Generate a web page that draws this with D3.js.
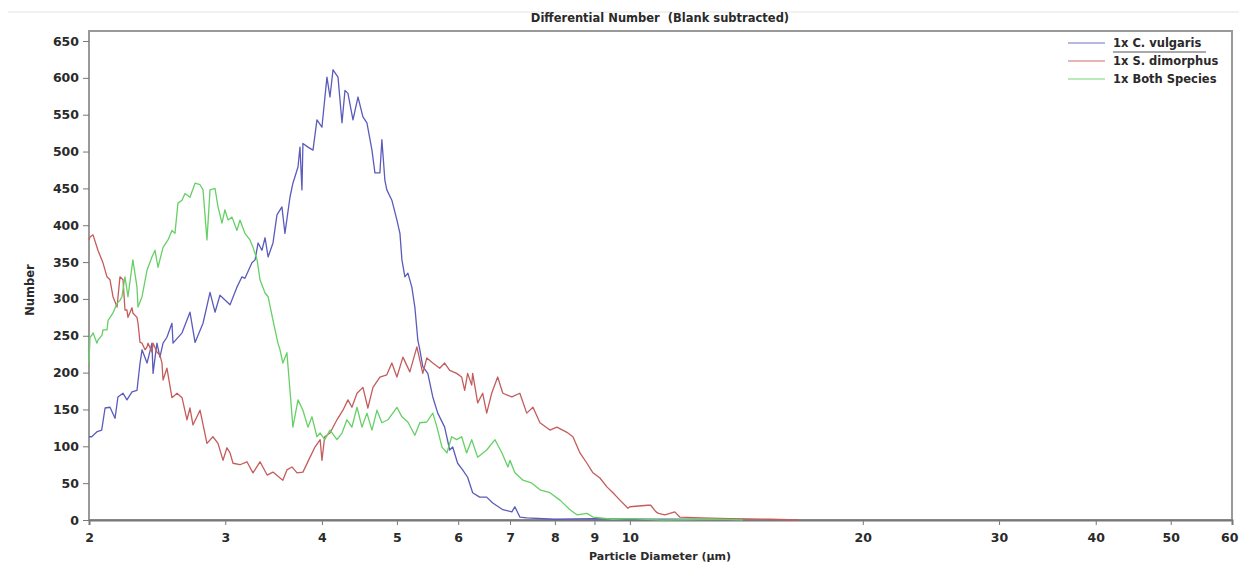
<!DOCTYPE html>
<html>
<head>
<meta charset="utf-8">
<script src="https://cdn.jsdelivr.net/npm/d3@7"></script>
<style>
  html, body { margin: 0; padding: 0; background: #fff; }
  svg { display: block; font-family: "DejaVu Sans", Arial, sans-serif; }
  .axis path, .axis line { stroke: #777; }
  .label { font-weight: 700; fill: #2a2a2a; white-space: pre; }
</style>
</head>
<body>
<svg id="chart" width="1239" height="563"></svg>
<script>
const title = "Differential Number  (Blank subtracted)";
const xTitle = "Particle Diameter (µm)";
const yTitle = "Number";
const seriesNames = ["1x C. vulgaris", "1x S. dimorphus", "1x Both Species"];
const seriesColors = ["#5b5bbb", "#c45c5c", "#66d066"];
const xTicks = [2, 3, 4, 5, 6, 7, 8, 9, 10, 20, 30, 40, 50, 60];
const yTicks = [0, 50, 100, 150, 200, 250, 300, 350, 400, 450, 500, 550, 600, 650];

// [diameter µm, number]
const cVulgaris = [
  [2.0, 113], [2.016, 113], [2.05, 120], [2.077, 122], [2.098, 152], [2.129, 153], [2.161, 138],
  [2.18, 167], [2.213, 172], [2.239, 163], [2.273, 174], [2.307, 176], [2.328, 213], [2.342, 231],
  [2.377, 213], [2.412, 240], [2.42, 199], [2.448, 240], [2.47, 221], [2.493, 240], [2.522, 248],
  [2.56, 267], [2.568, 240], [2.638, 254], [2.701, 282], [2.742, 241], [2.808, 267], [2.867, 309],
  [2.91, 282], [2.953, 305], [3.043, 292], [3.106, 316], [3.153, 330], [3.181, 328], [3.248, 349],
  [3.278, 353], [3.308, 376], [3.346, 366], [3.377, 383], [3.408, 357], [3.458, 376], [3.499, 414],
  [3.551, 425], [3.583, 389], [3.637, 438], [3.669, 457], [3.725, 479], [3.747, 506], [3.769, 448],
  [3.78, 511], [3.837, 506], [3.895, 502], [3.941, 543], [4.0, 533], [4.06, 601], [4.097, 574],
  [4.134, 611], [4.196, 601], [4.246, 539], [4.284, 583], [4.322, 579], [4.387, 543], [4.453, 574],
  [4.519, 547], [4.573, 539], [4.642, 502], [4.683, 471], [4.753, 471], [4.781, 516], [4.824, 461],
  [4.852, 448], [4.925, 434], [5.0, 407], [5.045, 389], [5.075, 353], [5.12, 330], [5.166, 335],
  [5.227, 316], [5.274, 289], [5.321, 244], [5.353, 231], [5.4, 208], [5.481, 199], [5.563, 167],
  [5.646, 145], [5.763, 126], [5.85, 95], [5.902, 99], [5.99, 77], [6.08, 68], [6.171, 58],
  [6.264, 37], [6.395, 31], [6.531, 31], [6.65, 23], [6.852, 14], [7.039, 11], [7.102, 18],
  [7.208, 4], [7.357, 3], [8.0, 1], [9.0, 2], [10.0, 1], [12.0, 1], [14.0, 0]
];
const sDimorphus = [
  [2.0, 380], [2.006, 384], [2.024, 387], [2.054, 366], [2.085, 349], [2.11, 330], [2.129, 326],
  [2.148, 303], [2.174, 289], [2.193, 330], [2.213, 326], [2.226, 285], [2.239, 285], [2.246, 275],
  [2.273, 288], [2.279, 281], [2.307, 275], [2.314, 267], [2.328, 241], [2.342, 240], [2.363, 231],
  [2.377, 235], [2.384, 240], [2.412, 228], [2.42, 240], [2.448, 228], [2.47, 224], [2.485, 213],
  [2.493, 190], [2.522, 206], [2.56, 166], [2.599, 172], [2.638, 166], [2.677, 136], [2.701, 152],
  [2.725, 129], [2.783, 149], [2.841, 104], [2.892, 113], [2.936, 104], [2.98, 81], [3.015, 98],
  [3.043, 91], [3.07, 77], [3.134, 75], [3.2, 79], [3.258, 64], [3.327, 79], [3.398, 61],
  [3.458, 65], [3.531, 57], [3.561, 54], [3.604, 68], [3.659, 72], [3.714, 64], [3.78, 65],
  [3.86, 85], [3.918, 99], [3.979, 109], [4.0, 81], [4.033, 113], [4.097, 118], [4.183, 136],
  [4.258, 149], [4.322, 163], [4.373, 153], [4.44, 172], [4.519, 180], [4.586, 152], [4.656, 180],
  [4.753, 194], [4.852, 197], [4.925, 213], [5.0, 194], [5.09, 221], [5.196, 201], [5.306, 235],
  [5.4, 199], [5.465, 220], [5.563, 213], [5.679, 206], [5.763, 213], [5.85, 203], [5.972, 199],
  [6.062, 194], [6.117, 176], [6.171, 199], [6.246, 183], [6.264, 199], [6.358, 159], [6.454, 172],
  [6.531, 145], [6.629, 172], [6.748, 194], [6.852, 172], [7.039, 167], [7.208, 172], [7.357, 145],
  [7.495, 153], [7.653, 132], [7.883, 122], [8.049, 126], [8.292, 119], [8.441, 113], [8.62, 91],
  [8.801, 77], [8.96, 64], [9.148, 57], [9.34, 45], [9.509, 37], [9.709, 27], [9.943, 16],
  [10.0, 18], [10.55, 20], [10.64, 20], [10.81, 11], [10.89, 9], [11.1, 7], [11.43, 11],
  [11.6, 4], [12.36, 3], [13.47, 2], [15.17, 1], [16.5, 0]
];
const bothSpecies = [
  [2.0, 213], [2.006, 248], [2.018, 251], [2.024, 254], [2.048, 240], [2.054, 244], [2.079, 251],
  [2.085, 258], [2.11, 258], [2.117, 271], [2.148, 281], [2.174, 294], [2.193, 298], [2.206, 303],
  [2.226, 330], [2.246, 303], [2.279, 353], [2.307, 316], [2.314, 289], [2.342, 303], [2.377, 339],
  [2.412, 357], [2.434, 366], [2.456, 343], [2.493, 370], [2.53, 380], [2.56, 393], [2.583, 389],
  [2.606, 430], [2.638, 434], [2.661, 443], [2.701, 438], [2.742, 457], [2.783, 455], [2.808, 448],
  [2.841, 380], [2.867, 448], [2.91, 450], [2.936, 425], [2.971, 403], [2.997, 421], [3.025, 407],
  [3.061, 411], [3.106, 393], [3.134, 407], [3.181, 389], [3.229, 380], [3.258, 370], [3.298, 353],
  [3.327, 326], [3.377, 308], [3.408, 303], [3.458, 271], [3.509, 240], [3.531, 231], [3.561, 213],
  [3.604, 227], [3.637, 176], [3.669, 126], [3.725, 163], [3.78, 149], [3.837, 126], [3.883, 140],
  [3.941, 113], [3.979, 118], [4.033, 109], [4.097, 122], [4.183, 109], [4.246, 118], [4.309, 136],
  [4.373, 126], [4.44, 153], [4.506, 126], [4.573, 145], [4.642, 122], [4.712, 149], [4.781, 132],
  [4.868, 136], [5.0, 153], [5.075, 140], [5.166, 133], [5.274, 115], [5.353, 132], [5.465, 133],
  [5.563, 145], [5.633, 126], [5.717, 99], [5.803, 91], [5.884, 113], [5.972, 109], [6.062, 113],
  [6.152, 91], [6.246, 109], [6.358, 85], [6.531, 95], [6.694, 109], [6.835, 91], [6.957, 72],
  [7.0, 81], [7.102, 64], [7.275, 54], [7.473, 50], [7.653, 41], [7.883, 37], [8.122, 27],
  [8.367, 14], [8.543, 7], [8.801, 9], [8.96, 4], [9.5, 1], [10.0, 2], [11.0, 0], [13.0, 1], [14.0, 0]
];
const allSeries = [cVulgaris, sDimorphus, bothSpecies];

const svg = d3.select("#chart");
const plotLeft = 89, plotRight = 1232, plotTop = 31, plotBottom = 520;

const x = d3.scaleLog().domain([2, 60]).range([plotLeft, plotRight]);
const y = d3.scaleLinear().domain([0, 663.6]).range([plotBottom, plotTop]);

function styleTicks(axis) {
  axis.attr("font-family", null).attr("font-size", null);
  axis.selectAll(".tick text")
    .style("font-family", "'DejaVu Sans', Arial, sans-serif")
    .style("font-size", "12.5px")
    .style("font-weight", "700")
    .attr("fill", "#2a2a2a");
}

// faint rule at the top
svg.append("line").attr("x1", 8).attr("x2", 1239).attr("y1", 12).attr("y2", 12)
  .attr("stroke", "#e4e4e4").attr("stroke-width", 1);

svg.append("text").attr("class", "label").attr("x", 660).attr("y", 22)
  .attr("text-anchor", "middle").attr("font-size", 11.5).text(title);

// plot frame
svg.append("rect").attr("x", plotLeft).attr("y", plotTop)
  .attr("width", plotRight - plotLeft).attr("height", plotBottom - plotTop)
  .attr("fill", "none").attr("stroke", "#999").attr("stroke-width", 2);

const yAxis = svg.append("g").attr("class", "axis").attr("transform", `translate(${plotLeft},0)`)
  .call(d3.axisLeft(y).tickValues(yTicks).tickSize(6).tickPadding(4).tickFormat(d3.format("d")));
yAxis.select(".domain").remove();
styleTicks(yAxis);

const xAxis = svg.append("g").attr("class", "axis").attr("transform", `translate(0,${plotBottom})`)
  .call(d3.axisBottom(x).tickValues(xTicks).tickSize(5).tickPadding(8).tickFormat(d3.format("d")));
xAxis.select(".domain").attr("stroke", "#888").attr("stroke-width", 2);
styleTicks(xAxis);
// last label sits against the right edge
xAxis.selectAll(".tick text").filter((d) => d === 60)
  .attr("text-anchor", "end").attr("dx", 6);

svg.append("text").attr("class", "label").attr("x", 660).attr("y", 560)
  .attr("text-anchor", "middle").attr("font-size", 11).text(xTitle);

svg.append("text").attr("class", "label").attr("transform", "translate(34,290) rotate(-90)")
  .attr("text-anchor", "middle").attr("font-size", 11.5).text(yTitle);

const line = d3.line().x((d) => x(d[0])).y((d) => y(d[1]));

allSeries.forEach((data, i) => {
  svg.append("path").datum(data).attr("fill", "none")
    .attr("stroke", seriesColors[i]).attr("stroke-width", 1.3)
    .attr("stroke-linejoin", "round").attr("d", line);
});

// legend
const legend = svg.append("g");
seriesNames.forEach((name, i) => {
  const ly = 43 + i * 18;
  legend.append("line").attr("x1", 1068).attr("x2", 1105).attr("y1", ly).attr("y2", ly)
    .attr("stroke", seriesColors[i]).attr("stroke-opacity", 0.6).attr("stroke-width", 1.3);
  legend.append("text").attr("class", "label").attr("x", 1113).attr("y", ly + 4)
    .attr("font-size", 11.5).text(name);
});
legend.append("line").attr("x1", 1113).attr("x2", 1206).attr("y1", 52).attr("y2", 52)
  .attr("stroke", "#555").attr("stroke-width", 1);
</script>
</body>
</html>
